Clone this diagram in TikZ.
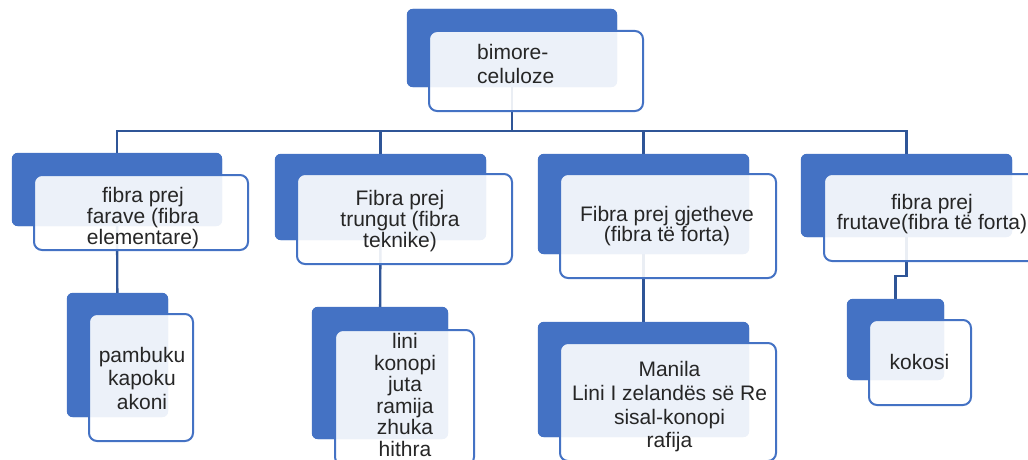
\documentclass[tikz,border=0pt]{standalone}
\usepackage{fontspec}
\setmainfont{Liberation Sans}
\definecolor{boxblue}{HTML}{4472C4}
\definecolor{linkblue}{HTML}{2F5597}
\definecolor{ink}{HTML}{262626}
\tikzset{
  backbox/.style={fill=boxblue, rounded corners=6pt, inner sep=0pt},
  frontbox/.style={draw=boxblue, line width=2pt, fill=white, fill opacity=0.9,
    rounded corners=8pt, inner sep=0pt},
  link/.style={draw=linkblue, line width=2.4pt},
  lbl/.style={inner sep=0pt, text=ink, align=center},
}
\newcommand{\lsp}[1]{\fontsize{21pt}{#1pt}\selectfont}
\begin{document}
\begin{tikzpicture}[x=1pt, y=-1pt]
\useasboundingbox (0,0) rectangle (1028,460);

% back plates (positions only; drawn after the links)
\path
  (512,48)      node[backbox, minimum width=210, minimum height=78] (b0) {}
  (117,189.5)   node[backbox, minimum width=210, minimum height=73] (b1) {}
  (380.5,197)   node[backbox, minimum width=211, minimum height=86] (b2) {}
  (643.5,204)   node[backbox, minimum width=211, minimum height=100] (b3) {}
  (906.5,195.5) node[backbox, minimum width=211, minimum height=83] (b4) {}
  (117.5,355)   node[backbox, minimum width=101, minimum height=124] (c1) {}
  (380,373)     node[backbox, minimum width=136, minimum height=132] (c2) {}
  (643.5,379.5) node[backbox, minimum width=211, minimum height=115] (c3) {}
  (895.5,339.5) node[backbox, minimum width=97, minimum height=81] (c4) {};

% links between the plates
\coordinate (bus) at (512,131);
\coordinate (jog) at (906.5,276);
\draw[link] (b0.center) -- (bus);
\draw[link] (b1.center) |- (bus) -| (b4.center);
\draw[link] (b2.center) -- (b2.center |- bus);
\draw[link] (b3.center) -- (b3.center |- bus);
\draw[link] (b1.center) -- (c1.center);
\draw[link] (b2.center) -- (c2.center);
\draw[link] (b3.center) -- (c3.center);
\draw[link] (b4.center) -- (jog) -| (c4.center);

% plates repainted over the links
\foreach \n in {b0,b1,b2,b3,b4,c1,c2,c3,c4}
  \fill[boxblue, rounded corners=6pt] (\n.south west) rectangle (\n.north east);

% front cards
\path
  (536,71)      node[frontbox, minimum width=214, minimum height=80] (f0) {}
  (141,212.5)   node[frontbox, minimum width=214, minimum height=75] (f1) {}
  (404.5,219)   node[frontbox, minimum width=215, minimum height=90] (f2) {}
  (668,226)     node[frontbox, minimum width=216, minimum height=104] (f3) {}
  (931,217.5)   node[frontbox, minimum width=214, minimum height=87] (f4) {}
  (141,377.5)   node[frontbox, minimum width=104, minimum height=127] (g1) {}
  (404.5,397.5) node[frontbox, minimum width=139, minimum height=135] (g2) {}
  (668,402)     node[frontbox, minimum width=216, minimum height=118] (g3) {}
  (920,362.5)   node[frontbox, minimum width=102, minimum height=85] (g4) {};

% labels
\node[lbl, align=left, anchor=west, font=\lsp{24}] (t0) at (477,64.4) {bimore-\\celuloze};
\node[lbl, font=\lsp{19}]   (t1) at (143,218)   {fibra prej\\farave (fibra\\elementare)};
\node[lbl, font=\lsp{19.5}] (t2) at (400,221)   {Fibra prej\\trungut (fibra\\teknike)};
\node[lbl, font=\lsp{20}]   (t3) at (667,226.5) {Fibra prej gjetheve\\(fibra të forta)};
\node[lbl, font=\lsp{19}]   (t4) at (932,214)   {fibra prej\\frutave(fibra të forta)};
\node[lbl, font=\lsp{23.5}] (u1) at (142,378)   {pambuku\\kapoku\\akoni};
\node[lbl, font=\lsp{21.6}] (u2) at (405,395)   {lini\\konopi\\juta\\ramija\\zhuka\\hithra};
\node[lbl, font=\lsp{23.7}] (u3) at (669.5,407) {Manila\\Lini I zelandës së Re\\sisal-konopi\\rafija};
\node[lbl, font=\lsp{21}]   (u4) at (919.5,361.5) {kokosi};
\end{tikzpicture}
\end{document}
